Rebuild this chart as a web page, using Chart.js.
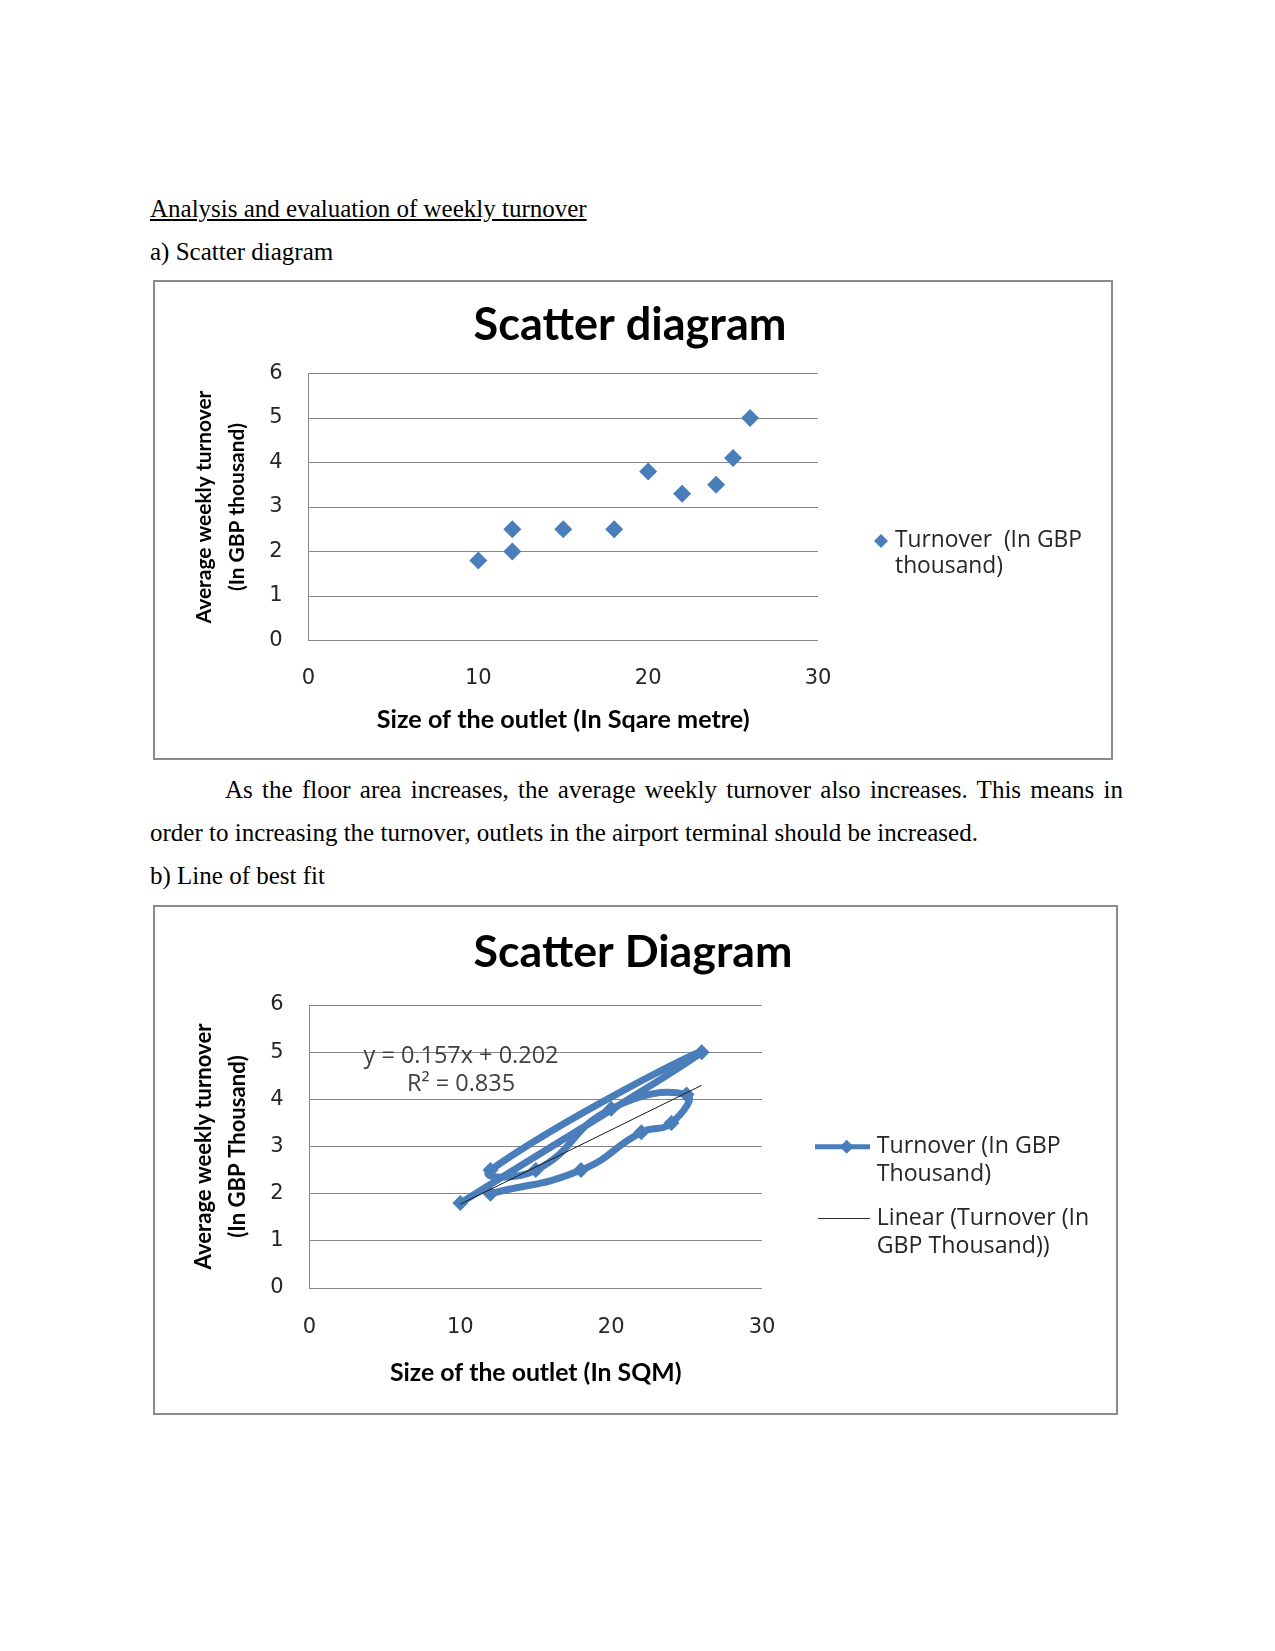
<!DOCTYPE html>
<html><head><meta charset="utf-8">
<script src="https://cdn.jsdelivr.net/npm/chart.js@4/dist/chart.umd.min.js"></script>
<style>
html,body{margin:0;padding:0;background:#fff;}
body{width:1275px;height:1651px;position:relative;overflow:hidden;font-family:"Liberation Serif","Times New Roman",serif;font-size:25px;color:#000;}
.t{position:absolute;white-space:nowrap;line-height:25px;}
.box{position:absolute;border:2px solid #8a8a8a;box-sizing:border-box;}
.cv{position:absolute;}
</style></head>
<body>
<div class="t" style="left:150px;top:196px;text-decoration:underline;">Analysis and evaluation of weekly turnover</div>
<div class="t" style="left:150px;top:239px;">a) Scatter diagram</div>
<div class="box" style="left:153px;top:280px;width:960px;height:480px;"></div>
<canvas id="c1" class="cv" style="left:153px;top:280px;" width="960" height="480"></canvas>
<div class="t" style="left:225px;top:777px;width:898px;white-space:normal;text-align:justify;text-align-last:justify;">As the floor area increases, the average weekly turnover also increases. This means in</div>
<div class="t" style="left:150px;top:820px;">order to increasing the turnover, outlets in the airport terminal should be increased.</div>
<div class="t" style="left:150px;top:863px;">b) Line of best fit</div>
<div class="box" style="left:153px;top:905px;width:965px;height:510px;"></div>
<canvas id="c2" class="cv" style="left:153px;top:905px;" width="965" height="510"></canvas>
<script>
// ---- data ----
const sizes = [10, 12, 12, 15, 18, 20, 22, 24, 25, 26];
const turnover = [1.8, 2.0, 2.5, 2.5, 2.5, 3.8, 3.3, 3.5, 4.1, 5.0];
// order in which the smoothed line of chart b) visits the points
const pathSizes = [12, 18, 22, 24, 25, 20, 15, 12, 26, 10];
const pathTurnover = [2.0, 2.5, 3.3, 3.5, 4.1, 3.8, 2.5, 2.5, 5.0, 1.8];
const xTickValues = [0, 10, 20, 30];
const yTickValues = [0, 1, 2, 3, 4, 5, 6];

const BLUE = '#4a7ebb';
const GRID = '#878787';
const TICKC = '#262626';
const SANS = '"Open Sans", "DejaVu Sans", sans-serif';
const TICKF = '"DejaVu Sans", sans-serif';
const BOLD = 'Lato, "Open Sans", sans-serif';

function linFit(xs, ys) {
  const n = xs.length;
  const mx = xs.reduce((s, v) => s + v, 0) / n;
  const my = ys.reduce((s, v) => s + v, 0) / n;
  let sxy = 0, sxx = 0, syy = 0;
  for (let i = 0; i < n; i++) {
    sxy += (xs[i] - mx) * (ys[i] - my);
    sxx += (xs[i] - mx) ** 2;
    syy += (ys[i] - my) ** 2;
  }
  const b = sxy / sxx;
  return { b, a: my - b * mx, r2: sxy * sxy / (sxx * syy) };
}
const fit = linFit(sizes, turnover);
const xMin = Math.min(...sizes), xMax = Math.max(...sizes);

function fitSize(ctx, text, weight, family, target) {
  ctx.font = weight + ' 100px ' + family;
  return 100 * target / ctx.measureText(text).width;
}
function txt(ctx, text, x, y, o) {
  ctx.save();
  ctx.font = (o.weight || 'normal') + ' ' + o.size + 'px ' + o.family;
  ctx.fillStyle = o.color || '#000';
  ctx.textAlign = o.align || 'left';
  ctx.textBaseline = o.baseline || 'middle';
  ctx.translate(x, y);
  if (o.rot) ctx.rotate(o.rot);
  ctx.fillText(text, 0, 0);
  ctx.restore();
}
function diamond(ctx, x, y, r, color) {
  ctx.save();
  ctx.fillStyle = color;
  ctx.beginPath();
  ctx.moveTo(x, y - r); ctx.lineTo(x + r, y); ctx.lineTo(x, y + r); ctx.lineTo(x - r, y);
  ctx.closePath(); ctx.fill();
  ctx.restore();
}

const decor = {
  id: 'decor',
  afterDraw(chart, args, o) {
    const ctx = chart.ctx, a = chart.chartArea;
    const cx = (a.left + a.right) / 2, cy = (a.top + a.bottom) / 2;
    const ts = fitSize(ctx, o.title, 'bold', BOLD, o.titleW);
    txt(ctx, o.title, o.titleX, o.titleY, { size: ts, weight: 'bold', family: BOLD, align: 'center', baseline: 'alphabetic' });
    const xs = fitSize(ctx, o.xTitle, 'bold', BOLD, o.xTitleW);
    txt(ctx, o.xTitle, cx, o.xTitleY, { size: xs, weight: 'bold', family: BOLD, align: 'center' });
    const ys = fitSize(ctx, o.yTitle[0], 'bold', BOLD, o.yTitleW);
    o.yTitle.forEach((line, i) => txt(ctx, line, o.yTitleX[i], cy, { size: ys, weight: 'bold', family: BOLD, align: 'center', rot: -Math.PI / 2 }));
    const ls = fitSize(ctx, o.legendRef, 'normal', SANS, o.legendW);
    o.legend.forEach(item => {
      if (item.kind === 'marker') diamond(ctx, item.mx, item.my, 7, BLUE);
      if (item.kind === 'line') {
        ctx.save(); ctx.strokeStyle = BLUE; ctx.lineWidth = 5; ctx.beginPath();
        ctx.moveTo(item.x0, item.my); ctx.lineTo(item.x1, item.my); ctx.stroke(); ctx.restore();
        diamond(ctx, item.mx, item.my, 7, BLUE);
      }
      if (item.kind === 'thin') {
        ctx.save(); ctx.strokeStyle = '#333'; ctx.lineWidth = 1; ctx.beginPath();
        ctx.moveTo(item.x0, item.my + 0.5); ctx.lineTo(item.x1, item.my + 0.5); ctx.stroke(); ctx.restore();
      }
      item.lines.forEach((l, i) => txt(ctx, l, item.tx, item.ty[i], { size: ls, family: SANS, color: '#262626' }));
    });
    if (o.eq) {
      const es = fitSize(ctx, o.eq[0], 'normal', SANS, o.eqW);
      o.eq.forEach((l, i) => txt(ctx, l, o.eqX, o.eqY[i], { size: es, family: SANS, color: '#404040', align: 'center' }));
    }
  }
};

function scales(xPad, yPad) {
  return {
    x: {
      type: 'linear', min: 0, max: 30,
      afterBuildTicks: s => { s.ticks = xTickValues.map(v => ({ value: v })); },
      afterFit: s => { s.height = 60; },
      grid: { display: false, drawTicks: false },
      border: { display: false },
      ticks: { padding: xPad, color: TICKC, font: { family: TICKF, size: 21 } }
    },
    y: {
      type: 'linear', min: 0, max: 6,
      afterBuildTicks: s => { s.ticks = yTickValues.map(v => ({ value: v })); },
      afterFit: s => { s.width = 60; },
      grid: { color: GRID, lineWidth: 1, drawTicks: false },
      border: { display: true, color: GRID, width: 1 },
      ticks: { padding: yPad, color: TICKC, font: { family: TICKF, size: 21 } }
    }
  };
}

// ---- chart a) ----
new Chart(document.getElementById('c1'), {
  type: 'scatter',
  data: {
    datasets: [{
      label: 'Turnover  (In GBP thousand)',
      data: sizes.map((x, i) => ({ x, y: turnover[i] })),
      pointStyle: 'rectRot', pointRadius: 9, pointHoverRadius: 9,
      backgroundColor: BLUE, borderColor: BLUE, borderWidth: 0
    }]
  },
  options: {
    responsive: false, animation: false, devicePixelRatio: 1,
    layout: { padding: { left: 95.5, right: 295, top: 93.5, bottom: 59.5 } },
    plugins: {
      legend: { display: false }, title: { display: false }, tooltip: { enabled: false },
      decor: {
        title: 'Scatter diagram', titleW: 313, titleX: 477, titleY: 60,
        xTitle: 'Size of the outlet (In Sqare metre)', xTitleW: 373, xTitleY: 440,
        yTitle: ['Average weekly turnover', '(In GBP thousand)'], yTitleW: 233, yTitleX: [51, 84],
        legendRef: 'Turnover  (In GBP', legendW: 187,
        legend: [{ kind: 'marker', mx: 728, my: 261, tx: 742, ty: [261, 287], lines: ['Turnover  (In GBP', 'thousand)'] }]
      }
    },
    scales: scales(25, 26)
  },
  plugins: [decor]
});

// ---- chart b) ----
const eqText = 'y = ' + fit.b.toFixed(3) + 'x + ' + fit.a.toFixed(3);
const r2Text = 'R\u00B2 = ' + fit.r2.toFixed(3);
new Chart(document.getElementById('c2'), {
  type: 'scatter',
  data: {
    datasets: [{
      label: 'Linear (Turnover (In GBP Thousand))',
      data: [{ x: xMin, y: fit.a + fit.b * xMin }, { x: xMax, y: fit.a + fit.b * xMax }],
      showLine: true, borderColor: '#1a1a1a', borderWidth: 1, pointRadius: 0, order: 0
    }, {
      label: 'Turnover (In GBP Thousand)',
      data: pathSizes.map((x, i) => ({ x, y: pathTurnover[i] })),
      showLine: true, tension: 0.5, borderColor: BLUE, borderWidth: 7,
      pointStyle: 'rectRot', pointRadius: 8, pointHoverRadius: 8,
      backgroundColor: BLUE, pointBorderWidth: 0, order: 1
    }]
  },
  options: {
    responsive: false, animation: false, devicePixelRatio: 1,
    layout: { padding: { left: 96.5, right: 356, top: 100, bottom: 67 } },
    plugins: {
      legend: { display: false }, title: { display: false }, tooltip: { enabled: false },
      decor: {
        title: 'Scatter Diagram', titleW: 319, titleX: 480, titleY: 62,
        xTitle: 'Size of the outlet (In SQM)', xTitleW: 291.6, xTitleY: 468,
        yTitle: ['Average weekly turnover', '(In GBP Thousand)'], yTitleW: 246, yTitleX: [51, 85],
        legendRef: 'Linear (Turnover (In', legendW: 212.7,
        legend: [
          { kind: 'line', x0: 662, x1: 717, mx: 693.7, my: 241.7, tx: 723.7, ty: [241.7, 269], lines: ['Turnover (In GBP', 'Thousand)'] },
          { kind: 'thin', x0: 665, x1: 717, my: 313, tx: 723.7, ty: [313, 341.7], lines: ['Linear (Turnover (In', 'GBP Thousand))'] }
        ],
        eq: [eqText, r2Text], eqW: 195, eqX: 308, eqY: [151, 179]
      }
    },
    scales: scales(27, 26)
  },
  plugins: [decor]
});
</script>
</body></html>
